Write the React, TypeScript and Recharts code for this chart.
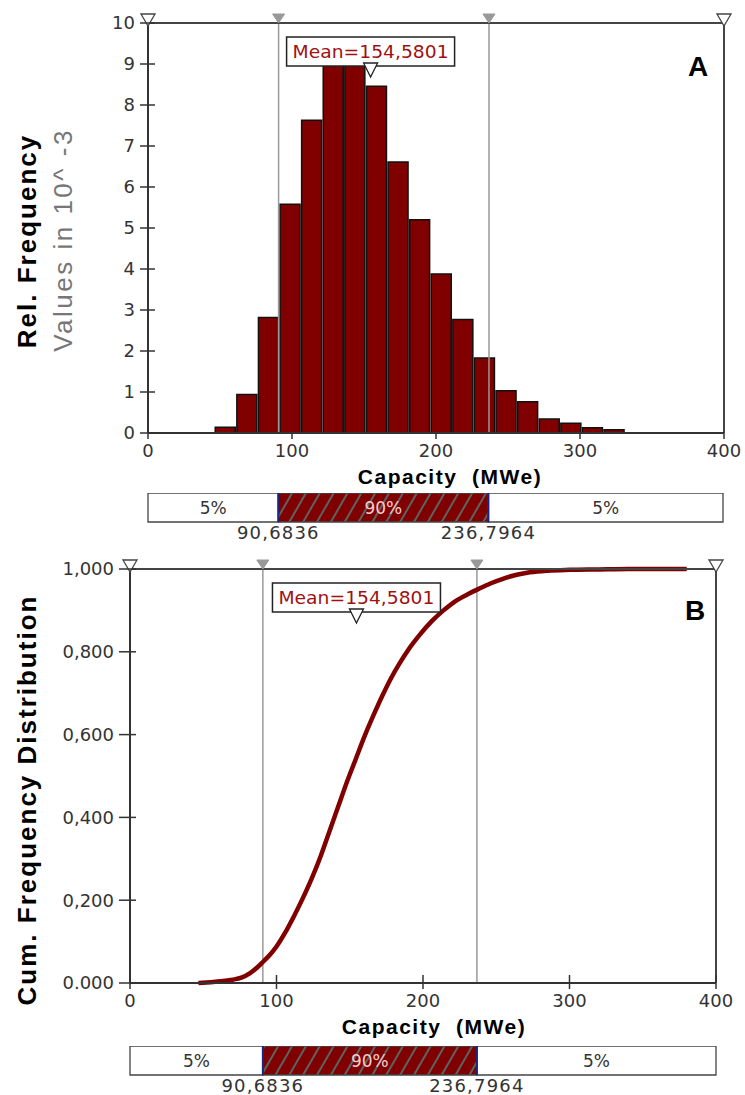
import React from 'react';
import {
  ComposedChart,
  BarChart,
  Bar,
  Line,
  XAxis,
  YAxis,
  ReferenceLine,
  ReferenceDot,
  LabelList,
  Label,
} from 'recharts';

// ---------- data ----------
const binCenters = [53.5, 68.5, 83.5, 98.5, 113.5, 128.5, 143.5, 158.5, 173.5, 188.5, 203.5, 218.5, 233.5, 248.5, 263.5, 278.5, 293.5, 308.5, 323.5];
const relFreq = [0.14, 0.94, 2.82, 5.58, 7.63, 8.98, 9.02, 8.46, 6.61, 5.2, 3.88, 2.77, 1.83, 1.03, 0.76, 0.34, 0.24, 0.13, 0.08];

const cdfX = [46.7, 55, 62, 70, 76, 82, 87, 91, 96, 100, 106, 112, 118, 124, 130, 136, 142, 148, 154, 160, 166, 172, 178, 184, 190, 198, 206, 214, 222, 230, 238, 246, 255, 264, 273, 285, 300, 320, 340, 380];
const cdfY = [0, 0.002, 0.004, 0.008, 0.013, 0.024, 0.038, 0.052, 0.07, 0.088, 0.122, 0.162, 0.205, 0.252, 0.305, 0.365, 0.425, 0.485, 0.54, 0.595, 0.645, 0.692, 0.735, 0.772, 0.805, 0.842, 0.874, 0.9, 0.922, 0.938, 0.952, 0.965, 0.977, 0.986, 0.992, 0.996, 0.998, 0.999, 1.0, 1.0];

const capacityTicks = [0, 100, 200, 300, 400];
const relFreqTicks = [0, 1, 2, 3, 4, 5, 6, 7, 8, 9, 10];
const cumTicks = [0, 0.2, 0.4, 0.6, 0.8, 1.0];
const cumTickLabels = ['0.000', '0,200', '0,400', '0,600', '0,800', '1,000'];

const xMin = 0;
const xMax = 400;
const relFreqMax = 10;
const cumMax = 1;
const percentile5 = 90.6836;
const percentile95 = 236.7964;
const meanValue = 154.5801;
const meanLabel = 'Mean=154,5801';
const segmentLabels = ['5%', '90%', '5%'];
const percentileLabels = ['90,6836', '236,7964'];
const endMarkers = [xMin, xMax];
const pctMarkers = [percentile5, percentile95];
const xTitle = 'Capacity\u00a0 (MWe)';

const histData = binCenters.map((x, i) => ({ x, v: relFreq[i] }));
const cdfData = cdfX.map((x, i) => ({ x, y: cdfY[i] }));
const segData = [
  { name: 'p', low: percentile5, mid: percentile95 - percentile5, high: xMax - percentile95 },
];

// ---------- styles ----------
const TICK_FONT = '"DejaVu Sans", sans-serif';
const TITLE_FONT = '"Liberation Sans", Arial, sans-serif';
const AXIS = '#333';
const DARK_RED = '#800000';

// ---------- custom pieces ----------
const YTick = (props: any) => {
  const { x, y, payload, labelOf, outL, inL } = props;
  const label = labelOf ? labelOf(payload.value) : String(payload.value);
  return (
    <g>
      <line x1={x - outL} x2={x + inL} y1={y} y2={y} stroke={AXIS} strokeWidth={1.5} />
      <text
        x={x - outL - 5}
        y={y}
        dy="0.36em"
        textAnchor="end"
        fontSize={18}
        fill="#333"
        fontFamily={TICK_FONT}
      >
        {label}
      </text>
    </g>
  );
};

const XTick = (props: any) => {
  const { x, y, payload, up, down } = props;
  return (
    <g>
      <line x1={x} x2={x} y1={y - up} y2={y + down} stroke={AXIS} strokeWidth={1.5} />
      <text x={x} y={y + 24} textAnchor="middle" fontSize={18} fill="#333" fontFamily={TICK_FONT}>
        {String(payload.value)}
      </text>
    </g>
  );
};

const EndMarker = (p: any) => (
  <polygon
    points={`${p.cx - 7},${p.cy - 9} ${p.cx + 7},${p.cy - 9} ${p.cx},${p.cy + 3}`}
    fill="#fff"
    stroke="#444"
    strokeWidth={1.3}
  />
);

const PctMarker = (p: any) => (
  <polygon
    points={`${p.cx - 6},${p.cy - 9} ${p.cx + 6},${p.cy - 9} ${p.cx},${p.cy}`}
    fill="#999"
    stroke="#999"
    strokeWidth={1}
  />
);

const MeanMarker = (p: any) => (
  <g>
    <rect x={p.cx - 84} y={p.cy + 14} width={168} height={29} fill="#fff" stroke="#222" strokeWidth={1.5} />
    <text
      x={p.cx}
      y={p.cy + 35}
      textAnchor="middle"
      fontSize={17}
      fill="#a01010"
      fontFamily={TICK_FONT}
      textLength={156}
      lengthAdjust="spacingAndGlyphs"
    >
      {meanLabel}
    </text>
    <polygon
      points={`${p.cx - 7},${p.cy + 40} ${p.cx + 7},${p.cy + 40} ${p.cx},${p.cy + 54}`}
      fill="#fff"
      stroke="#222"
      strokeWidth={1.3}
    />
  </g>
);

const PctTick = (props: any) => {
  const { x, y, payload } = props;
  const idx = pctMarkers.indexOf(payload.value);
  return (
    <text
      x={x}
      y={y + 17}
      textAnchor="middle"
      fontSize={18}
      letterSpacing={1.2}
      fill="#333"
      fontFamily={TICK_FONT}
    >
      {percentileLabels[idx]}
    </text>
  );
};

const VTitle = ({ text, cx, cy, style }: any) => (
  <div
    style={{
      position: 'absolute',
      left: cx,
      top: cy,
      transform: 'translate(-50%, -50%) rotate(-90deg)',
      whiteSpace: 'nowrap',
      fontFamily: TITLE_FONT,
      lineHeight: 1,
      ...style,
    }}
  >
    {text}
  </div>
);

const PercentileBar = ({ top, left, right, pid }: any) => (
  <div style={{ position: 'absolute', top, left: 0 }}>
    <BarChart
      width={745}
      height={52}
      data={segData}
      layout="vertical"
      margin={{ top: 0, right, left, bottom: 0 }}
      barCategoryGap={0}
    >
      <defs>
        <pattern id={pid} patternUnits="userSpaceOnUse" width={12} height={12} patternTransform="rotate(30)">
          <rect width={12} height={12} fill={DARK_RED} />
          <line x1={1} y1={0} x2={1} y2={12} stroke="#4f8585" strokeWidth={1.5} />
        </pattern>
      </defs>
      <XAxis
        type="number"
        domain={[xMin, xMax]}
        ticks={pctMarkers}
        interval={0}
        height={23}
        axisLine={false}
        tickLine={false}
        tickSize={0}
        tickMargin={0}
        tick={<PctTick />}
      />
      <YAxis type="category" dataKey="name" hide />
      <Bar dataKey="low" stackId="s" fill="#fff" stroke="#444" strokeWidth={1.3} isAnimationActive={false}>
        <LabelList
          dataKey="low"
          position="center"
          formatter={() => segmentLabels[0]}
          fill="#333"
          fontSize={17}
          fontFamily={TICK_FONT}
        />
      </Bar>
      <Bar dataKey="mid" stackId="s" fill={`url(#${pid})`} stroke="#444" strokeWidth={1.3} isAnimationActive={false}>
        <LabelList
          dataKey="mid"
          position="center"
          formatter={() => segmentLabels[1]}
          fill="#f4cccc"
          fontSize={17}
          fontFamily={TICK_FONT}
        />
      </Bar>
      <Bar dataKey="high" stackId="s" fill="#fff" stroke="#444" strokeWidth={1.3} isAnimationActive={false}>
        <LabelList
          dataKey="high"
          position="center"
          formatter={() => segmentLabels[2]}
          fill="#333"
          fontSize={17}
          fontFamily={TICK_FONT}
        />
      </Bar>
      <ReferenceLine x={percentile5} stroke="#1a237e" strokeWidth={2} />
      <ReferenceLine x={percentile95} stroke="#1a237e" strokeWidth={2} />
    </BarChart>
  </div>
);

const makeTitleLabel = (dx: number) => (
  <Label
    value={xTitle}
    position="insideBottom"
    offset={4}
    dx={dx}
    fontSize={21}
    fontWeight="bold"
    letterSpacing={1.5}
    fill="#000"
    fontFamily={TITLE_FONT}
  />
);

export default function App() {
  return (
    <div
      style={{
        position: 'absolute',
        left: 0,
        top: 0,
        width: 745,
        height: 1095,
        background: '#fff',
        overflow: 'hidden',
      }}
    >
      {/* ---------- Chart A ---------- */}
      <div style={{ position: 'absolute', left: 0, top: 0 }}>
        <ComposedChart
          width={745}
          height={490}
          data={histData}
          margin={{ top: 23, right: 21, bottom: 2, left: 88 }}
        >
          <XAxis
            dataKey="x"
            type="number"
            domain={[xMin, xMax]}
            ticks={capacityTicks}
            interval={0}
            height={55}
            axisLine={{ stroke: AXIS, strokeWidth: 2 }}
            tickLine={false}
            tickSize={0}
            tickMargin={0}
            tick={<XTick up={0} down={6} />}
          >
            {makeTitleLabel(14)}
          </XAxis>
          <YAxis
            type="number"
            domain={[0, relFreqMax]}
            ticks={relFreqTicks}
            interval={0}
            width={60}
            axisLine={{ stroke: AXIS, strokeWidth: 2 }}
            tickLine={false}
            tickSize={0}
            tickMargin={0}
            tick={<YTick outL={8} inL={7} />}
          />
          <Bar dataKey="v" fill={DARK_RED} stroke="#111" strokeWidth={1.5} barSize={20} isAnimationActive={false} />
          <ReferenceLine x={percentile5} stroke="#999" strokeWidth={1.5} />
          <ReferenceLine x={percentile95} stroke="#999" strokeWidth={1.5} />
          <ReferenceLine y={relFreqMax} stroke="#444" strokeWidth={2} />
          <ReferenceLine x={xMax} stroke="#444" strokeWidth={2} />
          {pctMarkers.map((m) => (
            <ReferenceDot key={'pa' + m} x={m} y={relFreqMax} ifOverflow="visible" shape={<PctMarker />} />
          ))}
          {endMarkers.map((m) => (
            <ReferenceDot key={'ea' + m} x={m} y={relFreqMax} ifOverflow="visible" shape={<EndMarker />} />
          ))}
          <ReferenceDot x={meanValue} y={relFreqMax} ifOverflow="visible" shape={<MeanMarker />} />
        </ComposedChart>
      </div>

      <VTitle
        text="Rel. Frequency"
        cx={27}
        cy={241}
        style={{ fontSize: 26, letterSpacing: 2, fontWeight: 'bold', color: '#000' }}
      />
      <VTitle
        text="Values in 10^ -3"
        cx={63}
        cy={240}
        style={{ fontSize: 26, letterSpacing: 2.5, color: '#777' }}
      />
      <div
        style={{
          position: 'absolute',
          left: 688,
          top: 53,
          fontFamily: TITLE_FONT,
          fontWeight: 'bold',
          fontSize: 28,
          lineHeight: 1,
        }}
      >
        A
      </div>

      <PercentileBar top={493} left={148} right={22} pid="hatchA" />

      {/* ---------- Chart B ---------- */}
      <div style={{ position: 'absolute', left: 0, top: 540 }}>
        <ComposedChart
          width={745}
          height={500}
          data={cdfData}
          margin={{ top: 29, right: 29, bottom: 2, left: 70 }}
        >
          <XAxis
            dataKey="x"
            type="number"
            domain={[xMin, xMax]}
            ticks={capacityTicks}
            interval={0}
            height={55}
            axisLine={{ stroke: AXIS, strokeWidth: 2 }}
            tickLine={false}
            tickSize={0}
            tickMargin={0}
            tick={<XTick up={8} down={6} />}
          >
            {makeTitleLabel(11)}
          </XAxis>
          <YAxis
            type="number"
            domain={[0, cumMax]}
            ticks={cumTicks}
            interval={0}
            width={60}
            axisLine={{ stroke: AXIS, strokeWidth: 2 }}
            tickLine={false}
            tickSize={0}
            tickMargin={0}
            tick={<YTick outL={11} inL={6} labelOf={(v: number) => cumTickLabels[cumTicks.indexOf(v)]} />}
          />
          <ReferenceLine x={percentile5} stroke="#999" strokeWidth={1.5} />
          <ReferenceLine x={percentile95} stroke="#999" strokeWidth={1.5} />
          <Line
            dataKey="y"
            type="monotone"
            stroke={DARK_RED}
            strokeWidth={4.5}
            dot={false}
            isAnimationActive={false}
          />
          <ReferenceLine y={cumMax} stroke="#444" strokeWidth={2} />
          <ReferenceLine x={xMax} stroke="#444" strokeWidth={2} />
          {pctMarkers.map((m) => (
            <ReferenceDot key={'pb' + m} x={m} y={cumMax} ifOverflow="visible" shape={<PctMarker />} />
          ))}
          {endMarkers.map((m) => (
            <ReferenceDot key={'eb' + m} x={m} y={cumMax} ifOverflow="visible" shape={<EndMarker />} />
          ))}
          <ReferenceDot x={meanValue} y={cumMax} ifOverflow="visible" shape={<MeanMarker />} />
        </ComposedChart>
      </div>

      <VTitle
        text="Cum. Frequency Distribution"
        cx={27}
        cy={800}
        style={{ fontSize: 26, letterSpacing: 2, fontWeight: 'bold', color: '#000' }}
      />
      <div
        style={{
          position: 'absolute',
          left: 685,
          top: 597,
          fontFamily: TITLE_FONT,
          fontWeight: 'bold',
          fontSize: 28,
          lineHeight: 1,
        }}
      >
        B
      </div>

      <PercentileBar top={1046} left={130} right={29} pid="hatchB" />
    </div>
  );
}
